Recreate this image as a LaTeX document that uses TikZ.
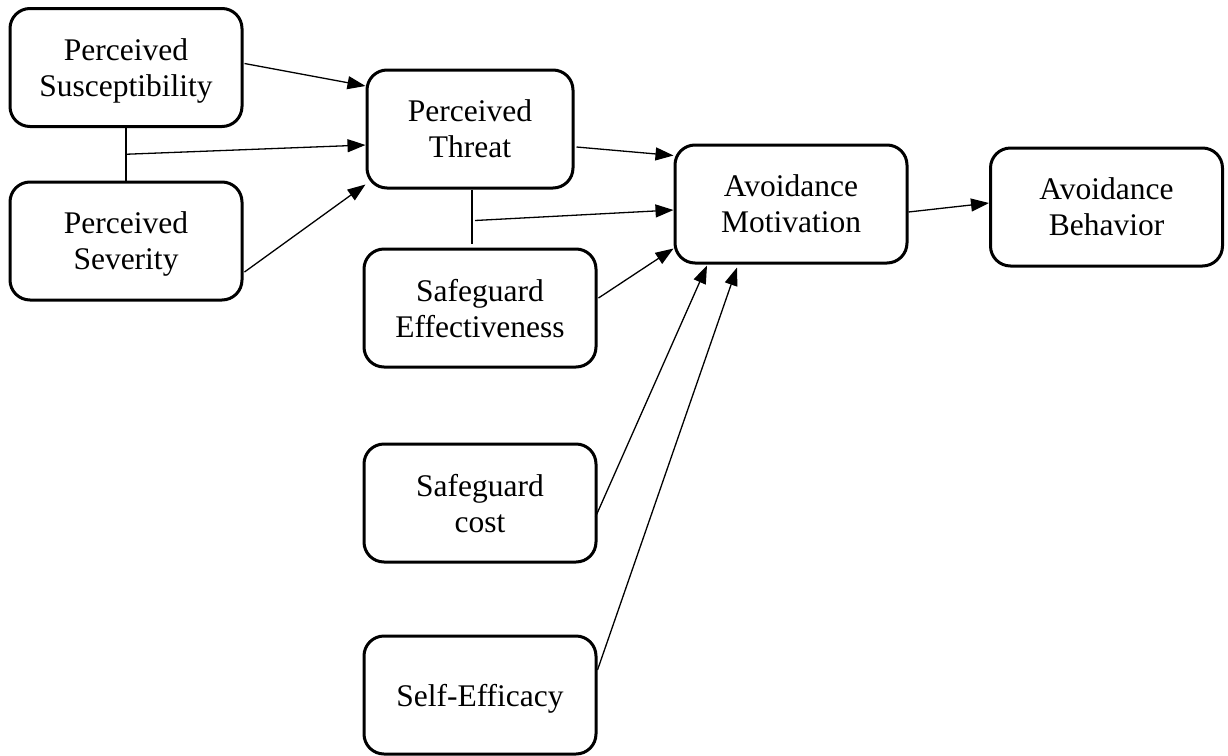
\documentclass[tikz,border=0pt]{standalone}
\usepackage{fontspec}
\setmainfont{Liberation Serif}
\usetikzlibrary{arrows.meta,calc}

\begin{document}
\begin{tikzpicture}[x=0.5pt,y=-0.5pt,
  box/.style={draw, line width=1.5pt, rounded corners=10pt, align=center,
    font=\fontsize{15.75}{18}\selectfont, inner sep=0pt, text depth=0pt,
    minimum width=116pt, minimum height=59pt},
  link/.style={line width=0.65pt},
  arr/.style={link, -{Triangle[length=9pt,width=6.5pt]}}]

\useasboundingbox (0,0) rectangle (1228,756);

% constructs
\node[box] (susc)   at (126,67.5) {Perceived\\Susceptibility};
\node[box] (sev)    at (126,241)  {Perceived\\Severity};
\node[box, minimum width=103pt] (threat) at (470,129) {Perceived\\Threat};
\node[box] (eff)    at (480,308)  {Safeguard\\Effectiveness};
\node[box] (mot)    at (791,204)  {Avoidance\\Motivation};
\node[box] (beh)    at (1106.5,207) {Avoidance\\Behavior};
\node[box] (cost)   at (480,503)  {Safeguard\\cost};
\node[box] (se)     at (480,695)  {Self-Efficacy};

% interaction terms
\coordinate (j1) at ($(susc.south)!0.5!(sev.north)$);
\draw[link] (susc.south) -- (sev.north);
\coordinate (j2top) at ($(threat.south)+(2,0)$);
\coordinate (j2bot) at ($(threat.south)+(2,54)$);
\coordinate (j2) at ($(threat.south)+(5,31)$);
\draw[link] (j2top) -- (j2bot);

% paths into perceived threat
\draw[arr] ($(susc.east)+(1,-4)$) -- ($(threat.west)+(0,-43)$);
\draw[arr] (j1) -- ($(threat.west)+(0,16)$);
\draw[arr] ($(sev.east)+(1,31)$) -- ($(threat.south west)+(0,-5)$);

% paths into avoidance motivation
\draw[arr] ($(threat.east)+(2,18)$) -- ($(mot.north west)+(0,12)$);
\draw[arr] (j2) -- ($(mot.west)+(0,6)$);
\draw[arr] ($(eff.east)+(1,-10)$) -- ($(mot.south west)+(0,-16)$);
\draw[arr] ($(cost.east)+(-2,14)$) -- ($(mot.south)+(-84,1)$);
\draw[arr] ($(se.east)+(0,-25)$) -- ($(mot.south)+(-54,3)$);

% outcome
\draw[arr] ($(mot.east)+(0,8)$) -- ($(beh.west)+(0,-4)$);

\end{tikzpicture}
\end{document}
